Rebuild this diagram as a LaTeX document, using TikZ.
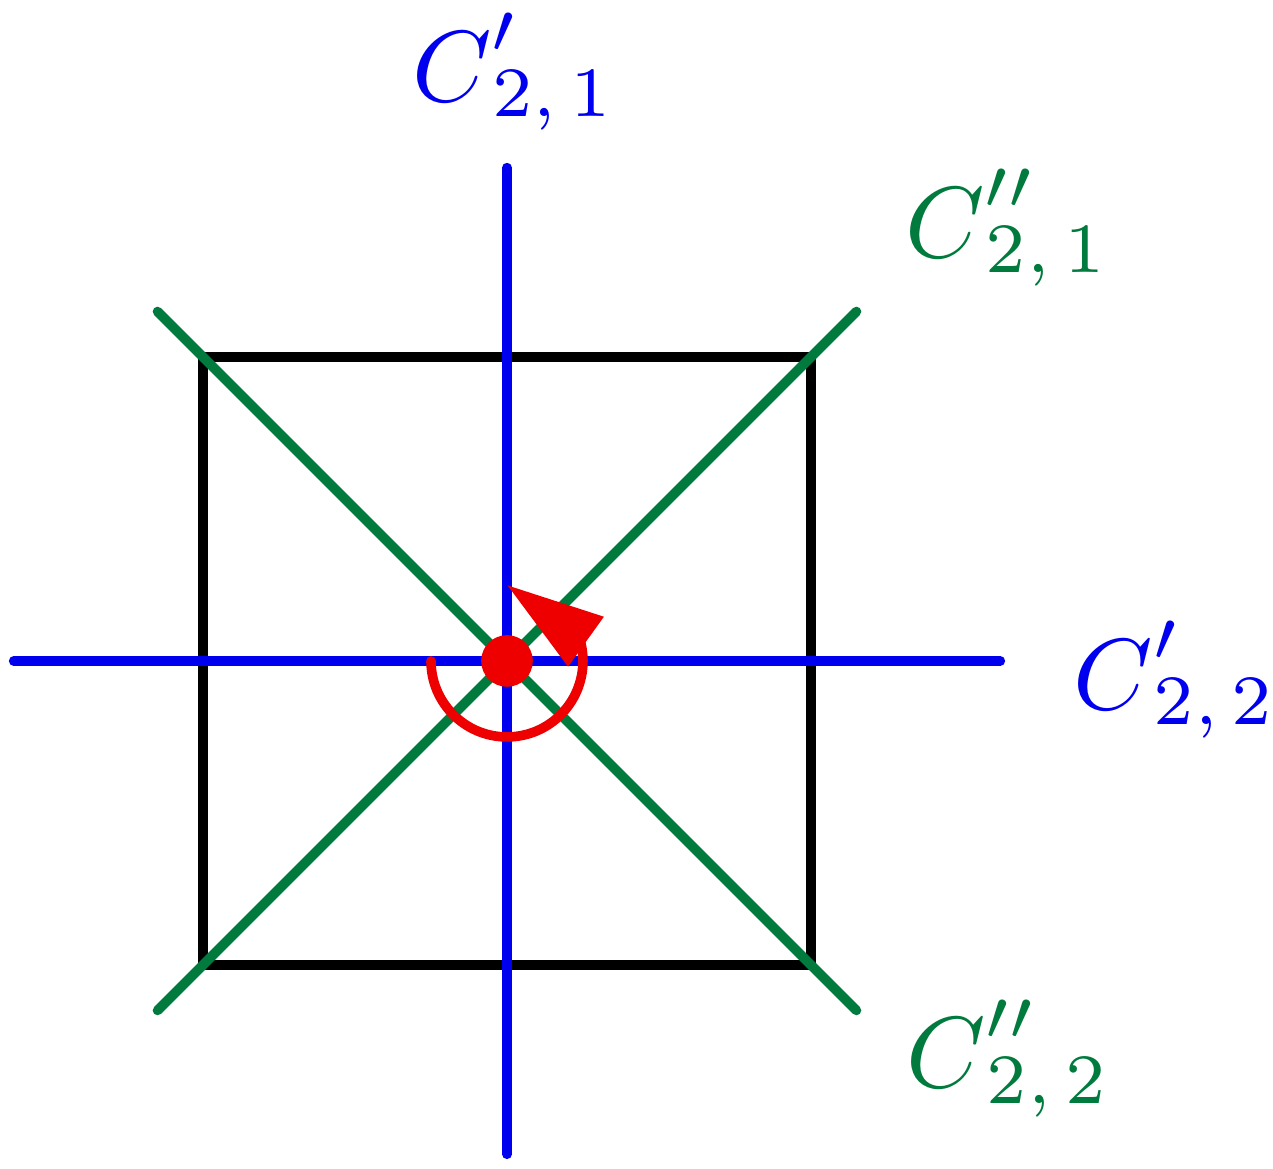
\documentclass[tikz,border=0pt]{standalone}
\usepackage{amsmath}
\usepackage{xcolor}
\usepackage{tikz}
\usetikzlibrary{arrows.meta, bending, positioning}
\definecolor{verde}{RGB}{0, 122, 61}
\definecolor{azul}{RGB}{0, 0, 238}
\definecolor{rojo}{RGB}{238, 0, 0}
% eixo C_2 com linha(s) e \'indice
\newcommand{\eixoC}[3]{C^{\raisebox{1.2pt}{$\scriptstyle#1$}}\mkern#2mu{}_{2,\,#3}}

\begin{document}
\begin{tikzpicture}[line cap=round,
  eixo/.style={line width=2.7pt},
  rotulo/.style={anchor=base, scale=2.84, inner sep=0pt}]
  \useasboundingbox (-5.005,-5.015) rectangle (7.562,6.525);
  % quadrado
  \draw[eixo, black, line cap=butt] (-3,-3) rectangle (3,3);
  % eixos C2'
  \draw[eixo, azul] (0,-4.87) -- (0,4.87);
  \draw[eixo, azul] (-4.87,0) -- (4.87,0);
  % diagonais C2''
  \draw[eixo, verde] (-3.45,-3.45) -- (3.45,3.45);
  \draw[eixo, verde] (-3.45,3.45) -- (3.45,-3.45);
  % rota\c{c}\~ao
  \fill[rojo] (0,0) circle (0.255);
  \draw[eixo, rojo, -{Triangle[length=9.6mm, width=5.8mm, flex]}]
    (180:0.75) arc[start angle=180, end angle=450, radius=0.75];
  % r\'otulos
  \node[rotulo, azul]  (c21a) at (0.07,5.52)  {$\eixoC{\prime}{-5}{1}$};
  \node[rotulo, verde] (c21b) at (4.94,3.98)  {$\eixoC{\prime\prime}{-9}{1}$};
  \node[rotulo, azul]  (c22a) at (6.60,-0.48) {$\eixoC{\prime}{-5}{2}$};
  \node[rotulo, verde] (c22b) at (4.95,-4.215) {$\eixoC{\prime\prime}{-9}{2}$};
\end{tikzpicture}
\end{document}
